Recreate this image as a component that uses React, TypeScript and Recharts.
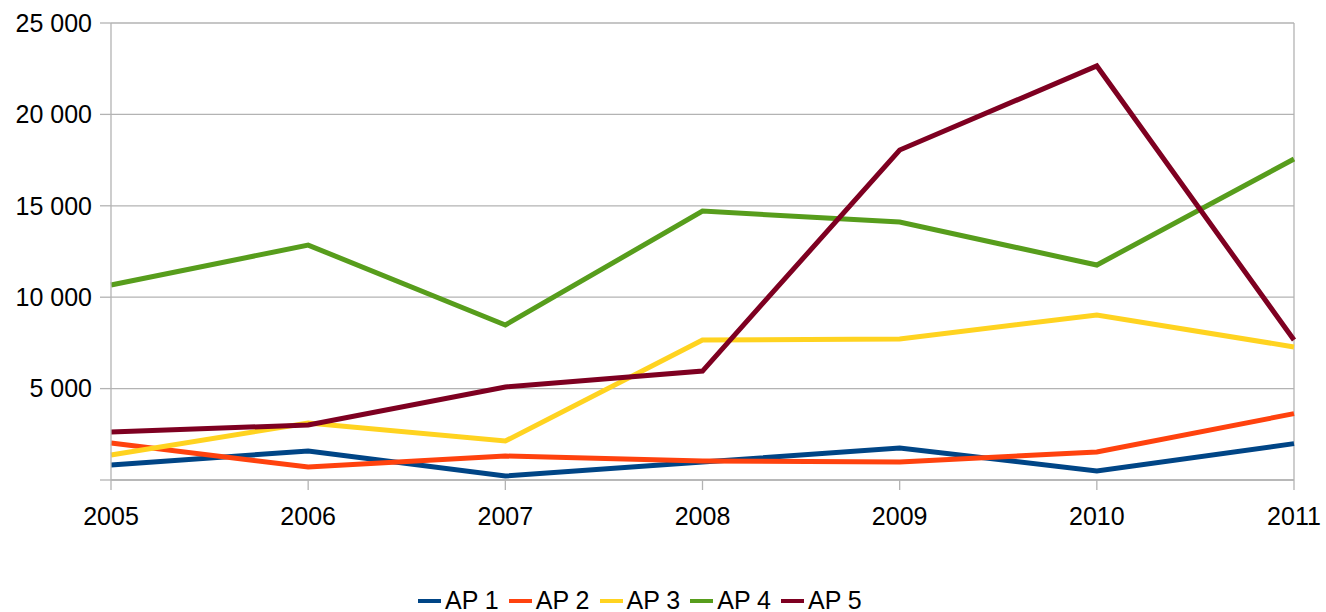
import { LineChart, Line, XAxis, YAxis, CartesianGrid, Legend, ReferenceLine } from "recharts";

const years = ["2005", "2006", "2007", "2008", "2009", "2010", "2011"];
const ap1 = [820, 1590, 220, 980, 1750, 490, 1990];
const ap2 = [2020, 710, 1310, 1040, 985, 1530, 3630];
const ap3 = [1370, 3120, 2130, 7660, 7710, 9030, 7280];
const ap4 = [10670, 12850, 8480, 14710, 14110, 11760, 17560];
const ap5 = [2630, 3010, 5090, 5960, 18050, 22650, 7660];

const seriesNames = ["AP 1", "AP 2", "AP 3", "AP 4", "AP 5"];
const seriesColors = ["#004586", "#ff420e", "#ffd320", "#579d1c", "#7e0021"];
const yTicks = [0, 5000, 10000, 15000, 20000, 25000];

const seriesValues = [ap1, ap2, ap3, ap4, ap5];

const data = years.map((year, i) => {
    const row: Record<string, string | number> = { year };
    seriesNames.forEach((name, s) => {
        row[name] = seriesValues[s][i];
    });
    return row;
});

const FONT = "'Liberation Sans', Arial, sans-serif";
const GRID = "#b3b3b3";

// thousands with a space, zero left blank like the original
const formatValue = (v: number) => (v === 0 ? "" : v.toLocaleString("en-US").replace(/,/g, " "));

const LegendContent = () => (
    <div
        style={{
            display: "flex",
            alignItems: "center",
            paddingLeft: 418,
            fontFamily: FONT,
            fontSize: 25,
            color: "#000",
            lineHeight: "25px",
            paddingTop: 8,
        }}
    >
        {seriesNames.map((name, i) => (
            <div key={name} style={{ display: "flex", alignItems: "center", marginRight: 10 }}>
                <span style={{ display: "inline-block", width: 23, height: 4, background: seriesColors[i], marginRight: 4 }} />
                <span>{name}</span>
            </div>
        ))}
    </div>
);

export default function App() {
    return (
        <div style={{ position: "absolute", left: 0, top: 0 }}>
            <LineChart width={1326} height={612} data={data} margin={{ top: 23, right: 32, left: 0, bottom: 0 }}>
                <CartesianGrid vertical={false} stroke={GRID} strokeWidth={1.3} />
                <XAxis
                    dataKey="year"
                    height={100}
                    stroke={GRID}
                    strokeWidth={1.3}
                    tickSize={10}
                    tickMargin={17}
                    tick={{ fill: "#000", fontSize: 25, fontFamily: FONT }}
                    interval={0}
                />
                <YAxis
                    width={111}
                    domain={[0, 25000]}
                    ticks={yTicks}
                    tickFormatter={formatValue}
                    stroke={GRID}
                    strokeWidth={1.3}
                    tickSize={11}
                    tickMargin={8}
                    tick={{ fill: "#000", fontSize: 25, fontFamily: FONT }}
                />
                <ReferenceLine x="2011" stroke={GRID} strokeWidth={1.3} />
                <Legend height={32} verticalAlign="bottom" wrapperStyle={{ left: 0, width: 1326 }} content={<LegendContent />} />
                {seriesNames.map((name, i) => (
                    <Line
                        key={name}
                        type="linear"
                        dataKey={name}
                        stroke={seriesColors[i]}
                        strokeWidth={5}
                        dot={false}
                        activeDot={false}
                        isAnimationActive={false}
                    />
                ))}
            </LineChart>
        </div>
    );
}
